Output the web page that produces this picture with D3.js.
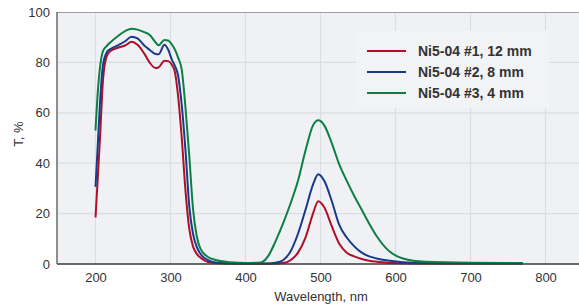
<!DOCTYPE html>
<html lang="en">
<head>
  <meta charset="UTF-8">
  <title>Ni5-04 transmission</title>
  <style>
    body { margin: 0; background: #fff; }
    text { font-family: "Liberation Sans", Arial, sans-serif; fill: #333; }
  </style>
</head>
<body>
  <div id="chart"></div>

  <script src="https://d3js.org/d3.v7.min.js"></script>
  <script>
    // wavelength grid (nm), shared by all three samples
    var wavelengths = [200, 203, 206, 210, 215, 220, 230, 240, 248, 256, 265, 272, 280, 284, 292, 297, 302, 306, 310, 315,
      320, 325, 330, 335, 340, 350, 360, 380, 400, 420, 430, 440, 450, 460, 470, 480, 490, 497, 505, 515,
      525, 535, 545, 555, 565, 575, 590, 610, 640, 700, 770];

    // transmission, %
    var t12mm = [18.5, 34, 50, 73, 82.5, 84.5, 85.8, 86.8, 88.2, 87, 83.5, 80, 77.8, 78, 80.7, 80.5, 79, 76, 67, 50,
      29, 14, 7, 4, 2.5, 0.8, 0.4, 0.2, 0.1, 0.1, 0.1, 0.2, 0.4, 1.5, 4.5, 10.5, 20, 24.9, 22.5, 15,
      8, 4.5, 3, 2, 1.3, 0.9, 0.5, 0.3, 0.2, 0.2, 0.2];
    var t8mm = [30.6, 47, 64, 79, 84, 85.3, 86.8, 88.5, 90.2, 89.5, 86.7, 85, 83.3, 83.2, 87, 85, 81, 78.5, 75, 63,
      45, 23, 12, 6.8, 4, 1.5, 0.6, 0.3, 0.2, 0.2, 0.2, 0.5, 1.5, 5, 12, 21.5, 31.5, 35.6, 33, 25,
      15.5, 10.5, 7, 4.5, 3, 2.2, 1.4, 0.7, 0.4, 0.3, 0.3];
    var t4mm = [53, 68, 78, 84.5, 86.5, 88, 90.5, 92.5, 93.4, 93, 92, 91, 88, 86.8, 88.9, 88.7, 87, 85, 82, 77,
      62, 43, 22, 11, 6, 2.8, 1.6, 0.7, 0.4, 0.6, 3, 9, 16, 24, 33, 45, 55, 57, 55, 48,
      39.5, 33, 27, 21.5, 16, 11, 5.5, 2.2, 0.9, 0.5, 0.4];

    var seriesNames = ["Ni5-04 #1, 12 mm", "Ni5-04 #2, 8 mm", "Ni5-04 #3, 4 mm"];
    var seriesColors = ["#ad1028", "#173b8a", "#0d7f45"];
    var seriesValues = [t12mm, t8mm, t4mm];

    var xTicks = [200, 300, 400, 500, 600, 700, 800];
    var yTicks = [0, 20, 40, 60, 80, 100];

    var W = 579, H = 306;
    var margin = {top: 12, right: 0, bottom: 42, left: 57};
    var width = W - margin.left - margin.right,
        height = H - margin.top - margin.bottom;

    var svg = d3.select("#chart")
      .append("svg")
      .attr("width", W)
      .attr("height", H)
      .append("g")
      .attr("transform", "translate(" + margin.left + "," + margin.top + ")");

    var x = d3.scaleLinear().domain([150, 850]).range([1, 526]);
    var y = d3.scaleLinear().domain([0, 100]).range([height, 0]);

    // plot background
    svg.append("rect")
      .attr("width", width)
      .attr("height", height)
      .style("fill", "#f0f1f4");

    // grid
    svg.append("g")
      .selectAll("line")
      .data(xTicks)
      .enter()
      .append("line")
      .attr("x1", function(d) { return x(d); })
      .attr("x2", function(d) { return x(d); })
      .attr("y1", 0)
      .attr("y2", height)
      .style("stroke", "#dcdde1")
      .style("stroke-width", 1.2);
    svg.append("g")
      .selectAll("line")
      .data(yTicks.slice(1, -1))
      .enter()
      .append("line")
      .attr("x1", 0)
      .attr("x2", width)
      .attr("y1", function(d) { return y(d); })
      .attr("y2", function(d) { return y(d); })
      .style("stroke", "#dcdde1")
      .style("stroke-width", 1.2);

    // top border
    svg.append("line")
      .attr("x1", 0).attr("x2", width)
      .attr("y1", 0.5).attr("y2", 0.5)
      .style("stroke", "#a0a0a4");

    // axes (no tick marks)
    var xAxis = svg.append("g")
      .attr("transform", "translate(0," + height + ")")
      .call(d3.axisBottom(x).tickValues(xTicks).tickSize(0).tickPadding(9));
    var yAxis = svg.append("g")
      .call(d3.axisLeft(y).tickValues(yTicks).tickSize(0).tickPadding(7));
    [xAxis, yAxis].forEach(function(a) {
      a.select(".domain").remove();
      a.selectAll("text")
        .style("font-family", '"Liberation Sans", Arial, sans-serif')
        .style("font-size", "13px")
        .style("fill", "#333");
    });

    // curves
    seriesValues.forEach(function(vals, i) {
      var pts = wavelengths.map(function(w, j) { return [w, vals[j]]; });
      svg.append("path")
        .datum(pts)
        .attr("d", d3.line()
          .x(function(d) { return x(d[0]); })
          .y(function(d) { return y(d[1]); })
          .curve(d3.curveMonotoneX))
        .style("fill", "none")
        .style("stroke", seriesColors[i])
        .style("stroke-width", 2);
    });

    // axis lines drawn over the curves
    svg.append("line")
      .attr("x1", 0).attr("x2", width)
      .attr("y1", height).attr("y2", height)
      .style("stroke", "#3a3a3a")
      .style("stroke-width", 1.5);
    svg.append("line")
      .attr("x1", 0).attr("x2", 0)
      .attr("y1", 0).attr("y2", height)
      .style("stroke", "#6a6a6a")
      .style("stroke-width", 1.5);

    // axis titles
    svg.append("text")
      .attr("text-anchor", "middle")
      .attr("x", 264)
      .attr("y", height + 37)
      .style("font-size", "13px")
      .text("Wavelength, nm");
    svg.append("text")
      .attr("text-anchor", "middle")
      .attr("transform", "translate(" + (-34) + "," + (height / 2 - 4) + ") rotate(-90)")
      .style("font-size", "13px")
      .text("T, %");

    // legend
    var legend = svg.append("g").attr("transform", "translate(299,19)");
    legend.append("rect")
      .attr("width", 193)
      .attr("height", 77)
      .style("fill", "#f2f3f5");
    seriesNames.forEach(function(name, i) {
      var row = legend.append("g").attr("transform", "translate(0," + (20 + i * 21) + ")");
      row.append("line")
        .attr("x1", 11).attr("x2", 50)
        .attr("y1", 0).attr("y2", 0)
        .style("stroke", seriesColors[i])
        .style("stroke-width", 2);
      row.append("text")
        .attr("x", 62)
        .attr("y", 0)
        .attr("dy", "0.35em")
        .style("font-size", "14px")
        .style("font-weight", "bold")
        .text(name);
    });
  </script>
</body>
</html>
